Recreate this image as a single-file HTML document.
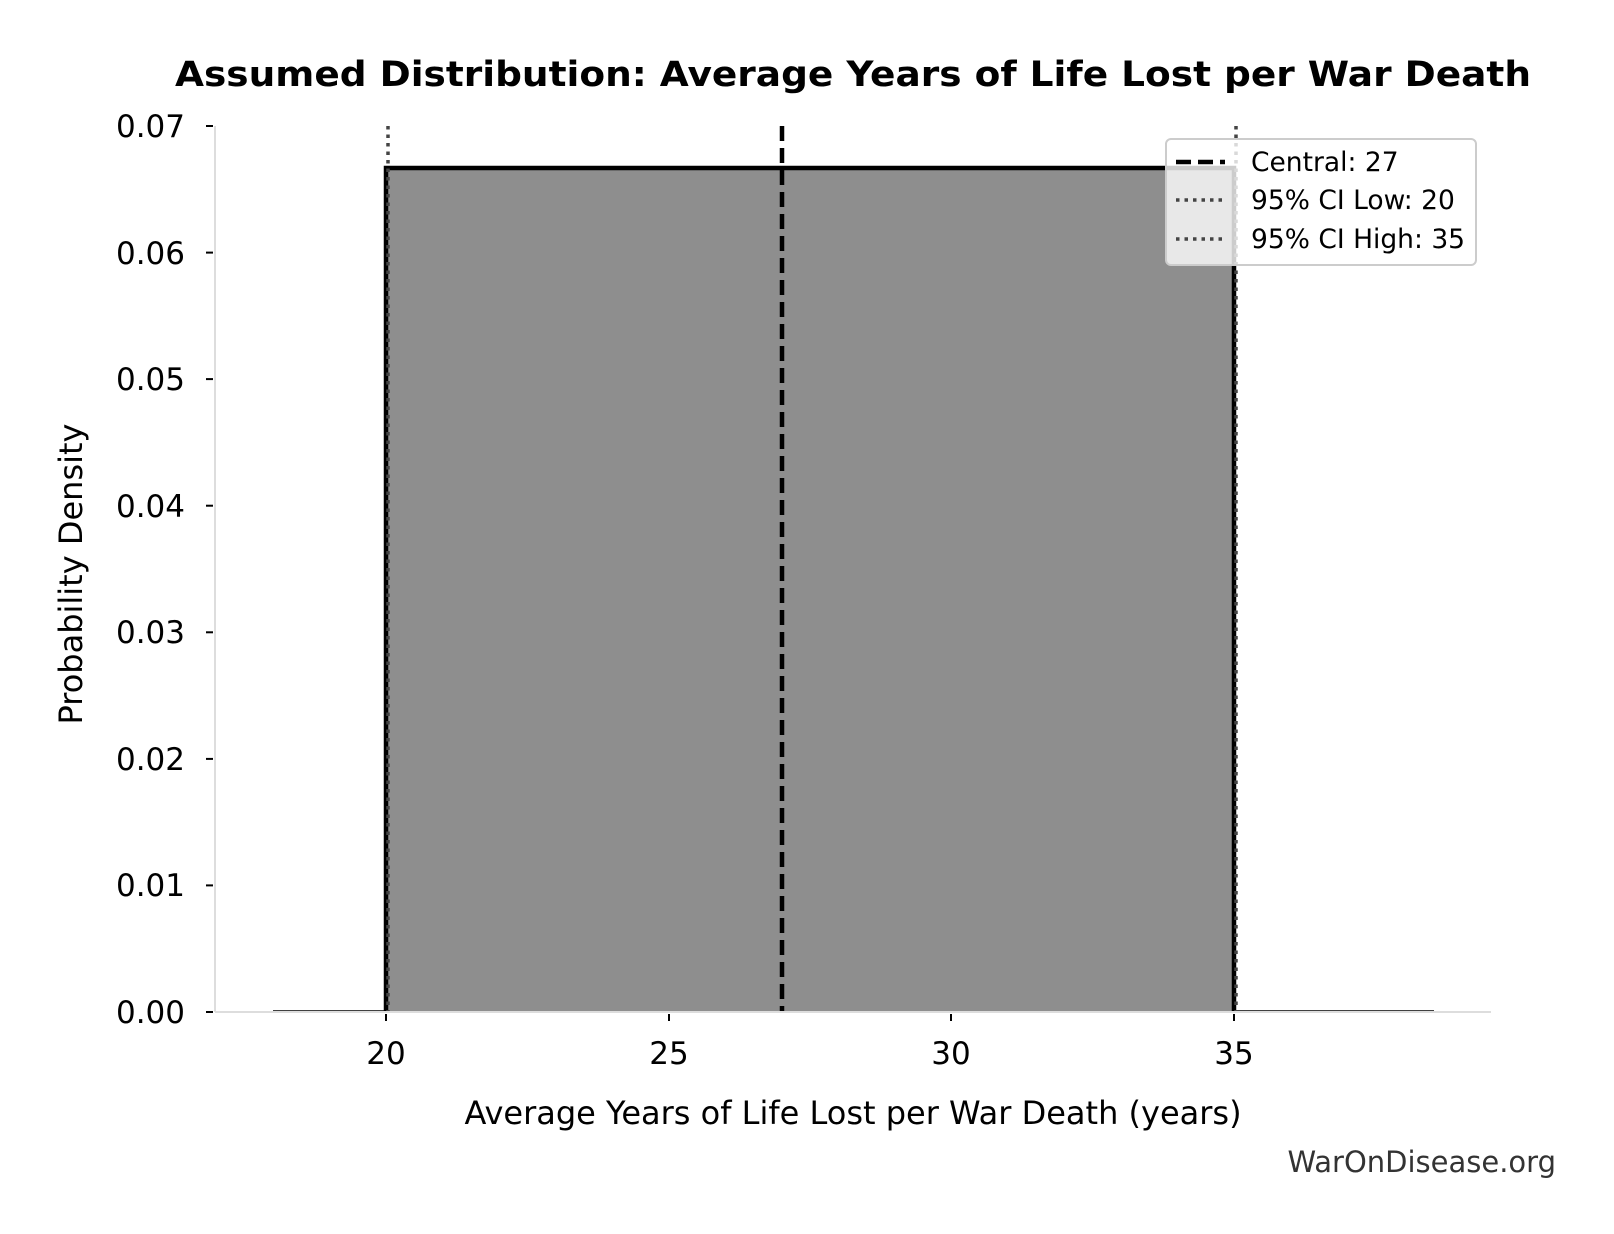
<!DOCTYPE html>
<html><head><meta charset="utf-8"><style>
html,body{margin:0;padding:0;background:#fff;}
svg{display:block;}
text{font-family:"DejaVu Sans","Liberation Sans",sans-serif;}
</style></head><body>
<svg width="1614" height="1234" viewBox="0 0 1614 1234" xmlns="http://www.w3.org/2000/svg">
<text x="853" y="86" text-anchor="middle" font-size="35" font-weight="bold" textLength="1356" lengthAdjust="spacingAndGlyphs">Assumed Distribution: Average Years of Life Lost per War Death</text>
<rect x="386" y="168" width="848" height="844" fill="#8e8e8e"/>
<polyline points="273,1011 386,1011 386,168 1234,168 1234,1011 1434,1011" fill="none" stroke="#000" stroke-width="1.5"/>
<polyline points="386,1012 386,168 1234,168 1234,1012" fill="none" stroke="#000" stroke-width="4.5"/>
<line x1="388" y1="126" x2="388" y2="1012" stroke="#444" stroke-width="3.5" stroke-dasharray="3.5,5"/>
<line x1="1236" y1="126" x2="1236" y2="1012" stroke="#444" stroke-width="3.5" stroke-dasharray="3.5,5"/>
<line x1="782" y1="126" x2="782" y2="1012" stroke="#000" stroke-width="4.5" stroke-dasharray="15,7"/>
<line x1="215" y1="126" x2="215" y2="1012" stroke="#ddd" stroke-width="2"/>
<line x1="215" y1="1012" x2="1491" y2="1012" stroke="#ddd" stroke-width="2"/>
<g stroke="#000" stroke-width="2">
<line x1="206" y1="126" x2="213" y2="126"/><line x1="206" y1="252.6" x2="213" y2="252.6"/>
<line x1="206" y1="379.1" x2="213" y2="379.1"/><line x1="206" y1="505.7" x2="213" y2="505.7"/>
<line x1="206" y1="632.3" x2="213" y2="632.3"/><line x1="206" y1="758.9" x2="213" y2="758.9"/>
<line x1="206" y1="885.4" x2="213" y2="885.4"/><line x1="206" y1="1012" x2="213" y2="1012"/>
<line x1="386" y1="1014" x2="386" y2="1021"/><line x1="669" y1="1014" x2="669" y2="1021"/>
<line x1="951" y1="1014" x2="951" y2="1021"/><line x1="1234" y1="1014" x2="1234" y2="1021"/>
</g>
<g font-size="31" text-anchor="end">
<text x="185" y="137">0.07</text><text x="185" y="264">0.06</text><text x="185" y="390">0.05</text>
<text x="185" y="517">0.04</text><text x="185" y="643">0.03</text><text x="185" y="770">0.02</text>
<text x="185" y="896">0.01</text><text x="185" y="1023">0.00</text>
</g>
<g font-size="31" text-anchor="middle">
<text x="386" y="1064">20</text><text x="669" y="1064">25</text><text x="951" y="1064">30</text><text x="1234" y="1064">35</text>
<text x="853" y="1124" font-size="32">Average Years of Life Lost per War Death (years)</text>
</g>
<text transform="translate(82,574) rotate(-90)" font-size="32" text-anchor="middle">Probability Density</text>
<text x="1556" y="1172" font-size="29" fill="#333" text-anchor="end">WarOnDisease.org</text>
<rect x="1166" y="139" width="310" height="126" rx="5" fill="#fff" fill-opacity="0.8" stroke="#ccc" stroke-width="2"/>
<line x1="1176" y1="162" x2="1225" y2="162" stroke="#000" stroke-width="4.5" stroke-dasharray="15,7"/>
<line x1="1176" y1="200" x2="1225" y2="200" stroke="#444" stroke-width="3.5" stroke-dasharray="3.5,5"/>
<line x1="1176" y1="239" x2="1225" y2="239" stroke="#444" stroke-width="3.5" stroke-dasharray="3.5,5"/>
<g font-size="26.5">
<text x="1251" y="171">Central: 27</text>
<text x="1251" y="209">95% CI Low: 20</text>
<text x="1251" y="248">95% CI High: 35</text>
</g>
</svg>
</body></html>
